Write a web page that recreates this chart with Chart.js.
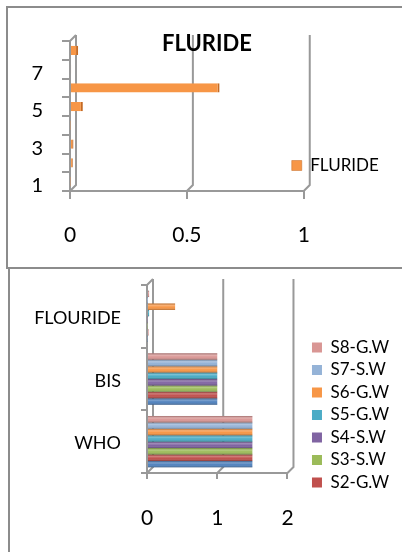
<!DOCTYPE html>
<html>
<head>
<meta charset="utf-8">
<script src="https://cdn.jsdelivr.net/npm/chart.js@4.4.0/dist/chart.umd.min.js"></script>
<style>
  html, body { margin: 0; padding: 0; background: #fff; width: 402px; height: 552px; overflow: hidden; }
  .box { position: absolute; border: 2px solid #8c8c8c; }
  #box1 { left: 6px; top: 6px; width: 430px; height: 259px; }
  #box2 { left: 8px; top: 267px; width: 430px; height: 320px; }
  canvas { position: absolute; left: 0; }
  #c1 { top: 0; }
  #c2 { top: 270px; }
  #title1 { position: absolute; left: 0; top: 32px; width: 414px; text-align: center;
            font: bold 22px Lato, sans-serif; line-height: 22px; color: #000; }
</style>
</head>
<body>
<div class="box" id="box1"></div>
<div class="box" id="box2"></div>
<canvas id="c1" width="402" height="270"></canvas>
<div id="title1">FLURIDE</div>
<canvas id="c2" width="402" height="282"></canvas>
<script>
// top chart: fluoride per station
const stations = ['1', '2', '3', '4', '5', '6', '7', '8'];
const fluride = [0.003, 0.012, 0.015, 0.003, 0.055, 0.64, 0.005, 0.035];

// bottom chart: standards vs samples
const groups = ['WHO', 'BIS', 'FLOURIDE'];
const seriesNames = ['S1-G.W', 'S2-G.W', 'S3-S.W', 'S4-S.W', 'S5-G.W', 'S6-G.W', 'S7-S.W', 'S8-G.W'];
const s1 = [1.5, 1, 0.01];
const s2 = [1.5, 1, 0.02];
const s3 = [1.5, 1, 0.01];
const s4 = [1.5, 1, 0.01];
const s5 = [1.5, 1, 0.03];
const s6 = [1.5, 1, 0.4];
const s7 = [1.5, 1, 0.005];
const s8 = [1.5, 1, 0.03];
const seriesValues = [s1, s2, s3, s4, s5, s6, s7, s8];

const palette = ['#4F81BD', '#C0504D', '#9BBB59', '#8064A2', '#4BACC6', '#F79646', '#95B3D7', '#D99694'];

Chart.defaults.font.family = 'Lato, sans-serif';
Chart.defaults.color = '#000';

// fake 3d back wall like the excel chart
const wall3d = {
  id: 'wall3d',
  beforeDatasetsDraw(chart, args, opts) {
    const ctx = chart.ctx;
    const a = chart.chartArea;
    const x = chart.scales.x;
    const d = opts.depth || 6;
    ctx.save();
    ctx.strokeStyle = '#999';
    ctx.lineWidth = 2;
    ctx.beginPath();
    ctx.moveTo(a.left, a.top);
    ctx.lineTo(a.left + d, a.top - d);
    x.ticks.forEach(t => {
      const px = x.getPixelForValue(t.value);
      ctx.moveTo(px, a.bottom);
      ctx.lineTo(px + d, a.bottom - d);
      ctx.lineTo(px + d, a.top - d);
    });
    ctx.stroke();
    ctx.restore();
  }
};

// move the legend a bit, excel puts it over the wall
const legendShift = {
  id: 'legendShift',
  afterLayout(chart, args, opts) {
    const lg = chart.legend;
    if (!lg) return;
    const dx = opts.dx || 0, dy = opts.dy || 0;
    lg.left += dx; lg.right += dx;
    lg.top += dy; lg.bottom += dy;
  }
};

// cylinder look on the grouped bars
const barShade = {
  id: 'barShade',
  afterDatasetsDraw(chart) {
    const ctx = chart.ctx;
    ctx.save();
    chart.data.datasets.forEach((ds, i) => {
      chart.getDatasetMeta(i).data.forEach(bar => {
        const p = bar.getProps(['x', 'y', 'base', 'height'], true);
        const top = p.y - p.height / 2;
        const g = ctx.createLinearGradient(0, top, 0, top + p.height);
        g.addColorStop(0, 'rgba(0,0,0,0.25)');
        g.addColorStop(0.3, 'rgba(255,255,255,0.25)');
        g.addColorStop(0.6, 'rgba(255,255,255,0)');
        g.addColorStop(1, 'rgba(0,0,0,0.3)');
        ctx.fillStyle = g;
        ctx.fillRect(p.base, top, p.x - p.base, p.height);
      });
    });
    ctx.restore();
  }
};

new Chart(document.getElementById('c1'), {
  type: 'bar',
  data: {
    labels: stations,
    datasets: [{
      label: 'FLURIDE',
      data: fluride,
      backgroundColor: '#F79646',
      borderColor: '#c46a24',
      borderWidth: { right: 2, top: 0, bottom: 0, left: 0 },
      barPercentage: 0.5,
      categoryPercentage: 1
    }]
  },
  options: {
    indexAxis: 'y',
    responsive: false,
    animation: false,
    layout: { padding: { top: 41, right: -3, left: 0, bottom: 0 } },
    scales: {
      x: {
        min: 0, max: 1,
        ticks: { stepSize: 0.5, font: { size: 21 }, color: '#000', padding: 24, maxRotation: 0,
                 callback: v => String(v) },
        grid: { drawOnChartArea: false, color: '#999', lineWidth: 2, tickLength: 8 },
        border: { color: '#999', width: 2 },
        afterFit(s) { s.height = 79; }
      },
      y: {
        reverse: true,
        ticks: {
          autoSkip: false, font: { size: 20 }, color: '#000', padding: 19, labelOffset: 4,
          callback: (v, i) => i % 2 === 0 ? stations[i] : ''
        },
        grid: { drawOnChartArea: false, color: '#999', lineWidth: 2, tickLength: 8 },
        border: { color: '#999', width: 2 },
        afterFit(s) { s.width = 70; s.paddingTop = 0; s.paddingBottom = 0; }
      }
    },
    plugins: {
      legend: {
        position: 'right',
        labels: { boxWidth: 10, boxHeight: 10, font: { size: 17 }, color: '#000', padding: 8 }
      },
      legendShift: { dx: -20, dy: 10 },
      wall3d: { depth: 6 },
      tooltip: { enabled: false }
    }
  },
  plugins: [wall3d, legendShift]
});

const datasets2 = [];
for (let i = seriesNames.length - 1; i >= 0; i--) {
  datasets2.push({
    label: seriesNames[i],
    data: seriesValues[i],
    backgroundColor: palette[i],
    borderWidth: 0,
    barPercentage: 1,
    categoryPercentage: 0.82
  });
}

new Chart(document.getElementById('c2'), {
  type: 'bar',
  data: { labels: groups, datasets: datasets2 },
  options: {
    indexAxis: 'y',
    responsive: false,
    animation: false,
    layout: { padding: { top: 15, right: 22, left: 0, bottom: 0 } },
    scales: {
      x: {
        min: 0, max: 2,
        ticks: { stepSize: 1, font: { size: 21 }, color: '#000', padding: 27, maxRotation: 0 },
        grid: { drawOnChartArea: false, color: '#999', lineWidth: 2, tickLength: 6 },
        border: { color: '#999', width: 2 },
        afterFit(s) { s.height = 79; }
      },
      y: {
        reverse: true,
        ticks: { autoSkip: false, font: { size: 18 }, color: '#000', padding: 20, labelOffset: 2 },
        grid: { drawOnChartArea: false, color: '#999', lineWidth: 2, tickLength: 6 },
        border: { color: '#999', width: 2 },
        afterFit(s) { s.width = 147; s.paddingTop = 0; s.paddingBottom = 0; }
      }
    },
    plugins: {
      legend: {
        position: 'right',
        labels: {
          boxWidth: 10, boxHeight: 10, font: { size: 17 }, color: '#000', padding: 5.5,
          filter: item => item.text !== seriesNames[0]
        }
      },
      legendShift: { dx: 19, dy: -3.5 },
      wall3d: { depth: 6 },
      tooltip: { enabled: false }
    }
  },
  plugins: [wall3d, legendShift, barShade]
});
</script>
</body>
</html>
